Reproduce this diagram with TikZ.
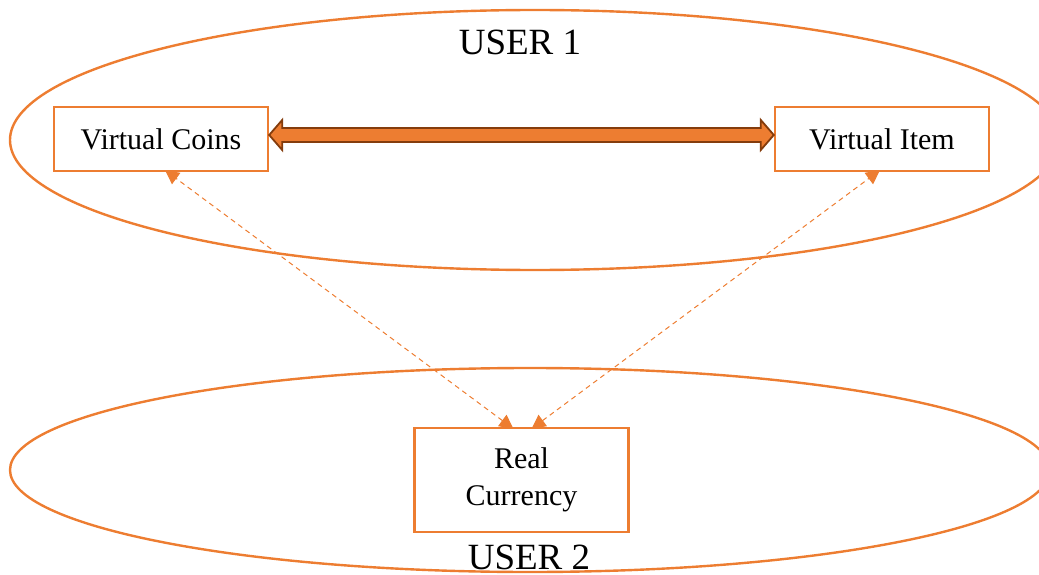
\documentclass[tikz,border=0pt]{standalone}
\usepackage{fontspec}
\setmainfont{Liberation Serif}
\usetikzlibrary{shapes.geometric,arrows.meta,calc}
\definecolor{orng}{HTML}{ED7D31}
\definecolor{brwn}{HTML}{843C0C}
\tikzset{
  userell/.style={ellipse, draw=orng, line width=2.4pt, inner sep=0pt},
  boxnode/.style={draw=orng, line width=2.4pt, fill=white, minimum width=214pt, inner sep=0pt, align=center, font=\fontsize{30}{37}\selectfont},
  usertext/.style={font=\fontsize{37}{40}\selectfont, inner sep=0pt},
  dasharrow/.style={draw=orng, line width=1pt, dash pattern=on 5pt off 4pt, {Triangle[length=14pt,width=14pt]}-{Triangle[length=14pt,width=14pt]}}
}
\begin{document}
\begin{tikzpicture}[x=1pt,y=-1pt]
\useasboundingbox (0,0) rectangle (1039,575);
\clip (0,0) rectangle (1039,575);
\node[userell, minimum width=1050pt, minimum height=260pt] (u1) at (535,140) {};
\node[userell, minimum width=1040pt, minimum height=204pt] (u2) at (530,470) {};
\node[usertext] (t1) at (520,42) {USER 1};
\node[usertext] (t2) at (529,557) {USER 2};
\node[boxnode, minimum height=64pt] (vc) at (161,139) {Virtual Coins};
\node[boxnode, minimum height=64pt] (vi) at (882,139) {Virtual Item};
\node[boxnode, minimum height=104pt] (rc) at (521.5,480) {Real\\Currency};
\draw[dasharrow] ([xshift=-8pt,yshift=-2pt]rc.north) -- ([xshift=4pt,yshift=2pt]vc.south);
\draw[dasharrow] ([xshift=10pt,yshift=-2pt]rc.north) -- ([xshift=-2pt,yshift=2pt]vi.south);
% double arrow
\coordinate (la) at (vc.east |- 0,135);
\coordinate (ra) at (vi.west |- 0,135);
\filldraw[fill=orng, draw=brwn, line width=1.8pt, line join=miter]
  (la) -- ++(13,-15) -- ++(0,8) -- ($(ra)+(-13,-7)$) -- ++(0,-8) -- (ra) -- ++(-13,15) -- ++(0,-8) -- ($(la)+(13,7)$) -- ++(0,8) -- cycle;
\end{tikzpicture}
\end{document}
